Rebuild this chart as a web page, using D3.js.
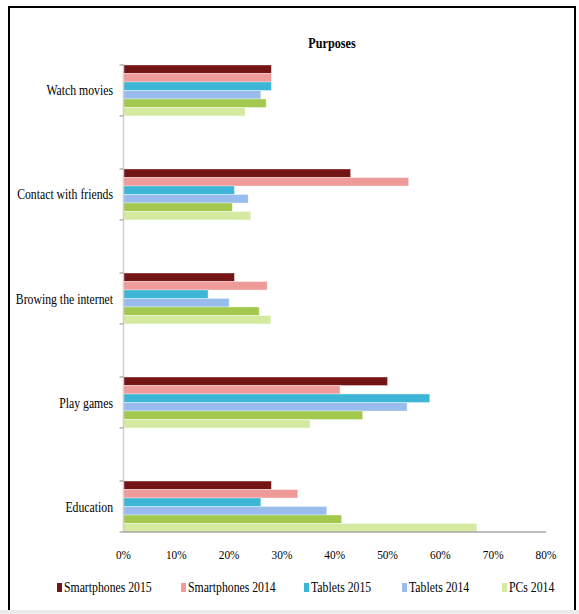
<!DOCTYPE html>
<html>
<head>
<meta charset="utf-8">
<script src="https://cdn.jsdelivr.net/npm/d3@7"></script>
<style>
  body { margin: 0; background: #fff; }
</style>
</head>
<body>
<script>
// categories, top to bottom
var categories = ["Watch movies", "Contact with friends", "Browing the internet", "Play games", "Education"];

// series (percent values, same order as categories)
var seriesNames = ["Smartphones 2015", "Smartphones 2014", "Tablets 2015", "Tablets 2014", "PCs 2015", "PCs 2014"];
var smartphones2015 = [28, 43, 21, 50, 28];
var smartphones2014 = [28, 54, 27.2, 41, 33];
var tablets2015 = [28, 21, 16, 58, 26];
var tablets2014 = [26, 23.6, 20, 53.7, 38.5];
var pcs2015 = [27, 20.6, 25.7, 45.3, 41.3];
var pcs2014 = [23, 24.1, 27.9, 35.3, 66.9];
var seriesValues = [smartphones2015, smartphones2014, tablets2015, tablets2014, pcs2015, pcs2014];

// legend only shows these entries
var legendNames = ["Smartphones 2015", "Smartphones 2014", "Tablets 2015", "Tablets 2014", "PCs 2014"];

var xTicks = [0, 10, 20, 30, 40, 50, 60, 70, 80];

var colors = {
  "Smartphones 2015": "#741414",
  "Smartphones 2014": "#ef9b99",
  "Tablets 2015": "#3cb5d6",
  "Tablets 2014": "#98bcec",
  "PCs 2015": "#a2c94d",
  "PCs 2014": "#d4eaa0"
};

var width = 579, height = 614;
var fontFamily = "'Liberation Serif', 'Times New Roman', 'DejaVu Serif', serif";

var svg = d3.select("body").append("svg")
    .attr("width", width)
    .attr("height", height);

// outer frame
svg.append("path")
    .attr("d", "M9,612 L9,7 L575,7 L575,612")
    .attr("fill", "none")
    .attr("stroke", "#000")
    .attr("stroke-width", 2);
svg.append("rect")
    .attr("x", 0).attr("y", 610)
    .attr("width", width).attr("height", 4)
    .attr("fill", "#ececec");

var xScale = d3.scaleLinear()
    .domain([0, 80])
    .range([123.5, 546]);

var yScale = d3.scaleBand()
    .domain(categories)
    .range([65, 532])
    .paddingInner(0.51)
    .paddingOuter(0);

var inner = d3.scaleBand()
    .domain(seriesNames)
    .range([0, yScale.bandwidth()]);

// the original text is a bit narrow, so squeeze it horizontally
function label(x, y, size, txt, squeeze) {
  return svg.append("text")
    .attr("transform", "translate(" + x + "," + y + ") scale(" + (squeeze || 0.84) + ",1)")
    .attr("font-family", fontFamily)
    .attr("font-size", size)
    .attr("fill", "#000")
    .text(txt);
}

// title
label(332, 48, 14.5, "Purposes")
    .attr("text-anchor", "middle")
    .attr("font-weight", "bold");

// bars
var groups = svg.selectAll(".group")
    .data(categories)
    .enter().append("g")
    .attr("class", "group")
    .attr("transform", function(d) { return "translate(0," + yScale(d) + ")"; });

groups.selectAll("rect")
    .data(function(c, ci) {
      return seriesNames.map(function(s, si) { return {name: s, value: seriesValues[si][ci]}; });
    })
    .enter().append("rect")
    .attr("x", xScale(0))
    .attr("y", function(d) { return inner(d.name); })
    .attr("width", function(d) { return xScale(d.value) - xScale(0); })
    .attr("height", inner.bandwidth())
    .attr("fill", function(d) { return colors[d.name]; })
    .attr("stroke", "#fff")
    .attr("stroke-opacity", 0.6)
    .attr("stroke-width", 0.6);

// axes
svg.append("line")
    .attr("x1", xScale(0)).attr("x2", xScale(0))
    .attr("y1", 64).attr("y2", 532)
    .attr("stroke", "#d0d0d0")
    .attr("stroke-width", 1.5);

svg.append("line")
    .attr("x1", xScale(0)).attr("x2", xScale(80))
    .attr("y1", 532).attr("y2", 532)
    .attr("stroke", "#a6a6a6")
    .attr("stroke-width", 1.5);

// small ticks at the top and bottom of each bar group
categories.forEach(function(c) {
  [yScale(c), yScale(c) + yScale.bandwidth()].forEach(function(y) {
    svg.append("line")
      .attr("x1", xScale(0) - 4).attr("x2", xScale(0))
      .attr("y1", y).attr("y2", y)
      .attr("stroke", "#8c8c8c")
      .attr("stroke-width", 1);
  });
});

// category labels
categories.forEach(function(c) {
  label(113, yScale(c) + yScale.bandwidth() / 2 + 5, 14.5, c, 0.81)
    .attr("text-anchor", "end");
});

// x tick labels
xTicks.forEach(function(t) {
  label(xScale(t), 559, 13.5, t + "%")
    .attr("text-anchor", "middle");
});

// legend
var legendX = [57, 181, 304, 402, 502];
legendNames.forEach(function(name, i) {
  svg.append("rect")
    .attr("x", legendX[i]).attr("y", 583)
    .attr("width", 5).attr("height", 9)
    .attr("fill", colors[name]);
  label(legendX[i] + 7, 592, 14, name);
});
</script>
</body>
</html>
